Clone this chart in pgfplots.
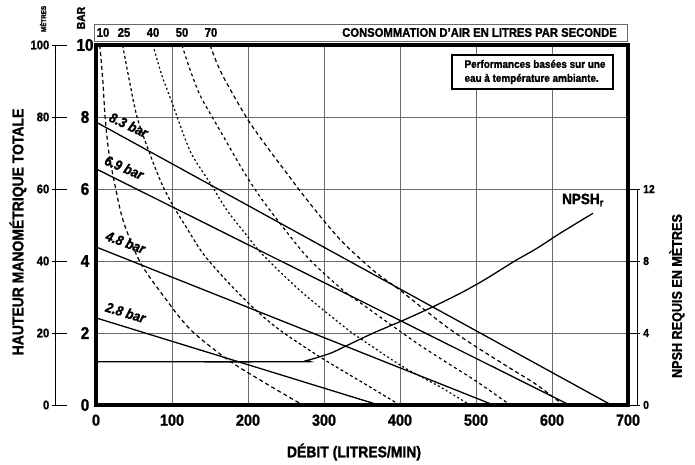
\documentclass[border=0pt]{standalone}
\usepackage{fontspec}
\setmainfont{Liberation Sans}[FakeStretch=0.9, BoldFeatures={FakeBold=1.3}, BoldItalicFeatures={FakeBold=1.3}]
\usepackage{pgfplots}
\pgfplotsset{compat=1.18}
\definecolor{gridc}{RGB}{105,105,105}
\begin{document}
\begin{tikzpicture}[x=1pt,y=1pt]
\begin{axis}[
  at={(96pt,60pt)}, anchor=south west,
  scale only axis, width=532pt, height=360pt,
  xmin=0, xmax=700, ymin=0, ymax=10,
  xtick={0,100,...,700}, ytick={0,2,...,10},
  grid=major, grid style={gridc, line width=0.9pt},
  major tick length=0pt,
  axis line style={draw=none},
  /pgf/number format/assume math mode=true,
  xticklabel style={font=\bfseries\fontsize{16}{16}\selectfont, yshift=-6pt},
  yticklabel style={font=\bfseries\fontsize{17}{17}\selectfont, anchor=center, xshift=-11pt},
]
% pressure lines (bar)
\addplot[black, line width=1.3pt] coordinates {(0,7.86) (678,0)};
\addplot[black, line width=1.3pt] coordinates {(0,6.56) (623,0)};
\addplot[black, line width=1.3pt] coordinates {(0,4.39) (523,0)};
\addplot[black, line width=1.3pt] coordinates {(0,2.42) (372,0)};
% air consumption curves (l/s)
\addplot[black, line width=1.2pt, smooth, dash pattern=on 4pt off 3pt] coordinates {
 (5,10) (9,9) (12,8) (17,7) (25,6.1) (36,5.1) (58,3.97) (88,3.05) (124,2.1) (174,1.25) (225,0.58) (272,0)};
\addplot[black, line width=1.2pt, smooth, dash pattern=on 3pt off 2.5pt] coordinates {
 (35,10) (44,9) (54,8) (69,7.08) (86,6.17) (101,5.55) (117,5.0) (141,4.2) (172,3.45) (207,2.7) (242,2.08) (295,1.33) (351,0.62) (400,0)};
\addplot[black, line width=1.2pt, smooth, dash pattern=on 2pt off 2.5pt] coordinates {
 (75,10) (86,9.2) (100,8.4) (124,7.05) (150,6.17) (172,5.42) (198,4.72) (216,4.25) (242,3.7) (270,3.15) (299,2.64) (334,2.05) (351,1.8) (404,1.06) (453,0.5) (492,0)};
\addplot[black, line width=1.2pt, smooth, dash pattern=on 3pt off 3pt] coordinates {
 (113,10) (124,9.3) (137,8.6) (157,7.85) (172,7.3) (193,6.53) (216,5.78) (246,4.94) (272,4.25) (295,3.75) (330,3.1) (347,2.85) (380,2.35) (422,1.72) (460,1.2) (501,0.65) (545,0)};
\addplot[black, line width=1.2pt, smooth, dash pattern=on 4pt off 3pt] coordinates {
 (150,10) (160,9.45) (172,8.94) (200,7.92) (225,7.17) (251,6.44) (272,5.85) (299,5.14) (321,4.6) (343,4.15) (370,3.65) (400,3.19) (435,2.6) (466,2.1) (505,1.55) (545,1.02) (580,0.56) (615,0)};
% line labels
\node[rotate=-25, font=\bfseries\itshape\fontsize{14}{14}\selectfont, inner sep=0pt] at (axis cs:43,7.78) {8.3 bar};
\node[rotate=-23, font=\bfseries\itshape\fontsize{14}{14}\selectfont, inner sep=0pt] at (axis cs:37,6.6) {6.9 bar};
\node[rotate=-20, font=\bfseries\itshape\fontsize{14}{14}\selectfont, inner sep=0pt] at (axis cs:39,4.52) {4.8 bar};
\node[rotate=-17, font=\bfseries\itshape\fontsize{14}{14}\selectfont, inner sep=0pt] at (axis cs:39,2.57) {2.8 bar};
\end{axis}
% NPSH axis (metres, right scale)
\begin{axis}[
  at={(96pt,60pt)}, anchor=south west,
  scale only axis, width=532pt, height=360pt,
  xmin=0, xmax=700, ymin=0, ymax=20, hide axis,
]
\addplot[black, line width=1.3pt, smooth] coordinates {
 (0,2.4) (262,2.4) (275,2.45) (290,2.62) (310,2.9) (330,3.3) (365,4.0) (404,4.7) (443,5.45) (479,6.2) (509,6.9) (532,7.5) (553,8.05) (580,8.7) (611,9.55) (654,10.65)};
\end{axis}
% frame
\draw[line width=3.5pt] (96,60) rectangle (628,420);
% note box
\draw[line width=1.2pt, fill=white] (452,410) rectangle (613,376);
\node[align=left, font=\bfseries\fontsize{11}{14}\selectfont, inner sep=0pt] at (535,393) {Performances basées sur une\\eau à température ambiante.};
% top air-consumption box
\draw[gridc, line width=0.8pt] (94,441) rectangle (627,424);
\foreach \xx/\lab in {103/10,124/25,153/40,182/50,211/70}
  \node[font=\bfseries\fontsize{12.5}{12.5}\selectfont, inner sep=0pt] at (\xx,432.5) {\lab};
\node[anchor=east, font=\bfseries\fontsize{12.5}{12.5}\selectfont, inner sep=0pt] at (617,432.5) {CONSOMMATION D’AIR EN LITRES PAR SECONDE};
% left metres scale
\draw[line width=0.8pt] (55,60) -- (55,420);
\foreach \k/\lab in {0/0,1/20,2/40,3/60,4/80,5/100} {
  \draw[line width=0.8pt] (52,60+72*\k) -- (67,60+72*\k);
  \node[anchor=east, font=\bfseries\fontsize{12.5}{12.5}\selectfont, inner sep=0pt] at (49.5,60+72*\k) {\lab};
}
\node[rotate=90, font=\bfseries\fontsize{7}{7}\selectfont, inner sep=0pt] at (43,446) {MÈTRES};
\node[rotate=90, font=\bfseries\fontsize{11.5}{11.5}\selectfont, inner sep=0pt] at (81,447) {BAR};
% right NPSH scale
\draw[line width=0.8pt] (637,60) -- (637,276);
\foreach \k/\lab in {0/0,1/4,2/8,3/12} {
  \draw[line width=0.8pt] (630,60+72*\k) -- (640,60+72*\k);
  \node[anchor=west, font=\bfseries\fontsize{11.5}{11.5}\selectfont, inner sep=0pt] at (643,60+72*\k) {\lab};
}
\node[font=\bfseries\fontsize{15}{15}\selectfont] at (583,265) {NPSH\textsubscript{r}};
% axis titles
\node[rotate=90, font=\bfseries\fontsize{15.5}{15.5}\selectfont] at (18,233) {HAUTEUR MANOMÉTRIQUE TOTALE};
\node[rotate=90, font=\bfseries\fontsize{14}{14}\selectfont] at (677,169) {NPSH REQUIS EN MÈTRES};
\node[font=\bfseries\fontsize{15.5}{15.5}\selectfont] at (354,13) {DÉBIT (LITRES/MIN)};
\pgfresetboundingbox
\useasboundingbox (0,0) rectangle (695,465);
\end{tikzpicture}
\end{document}
